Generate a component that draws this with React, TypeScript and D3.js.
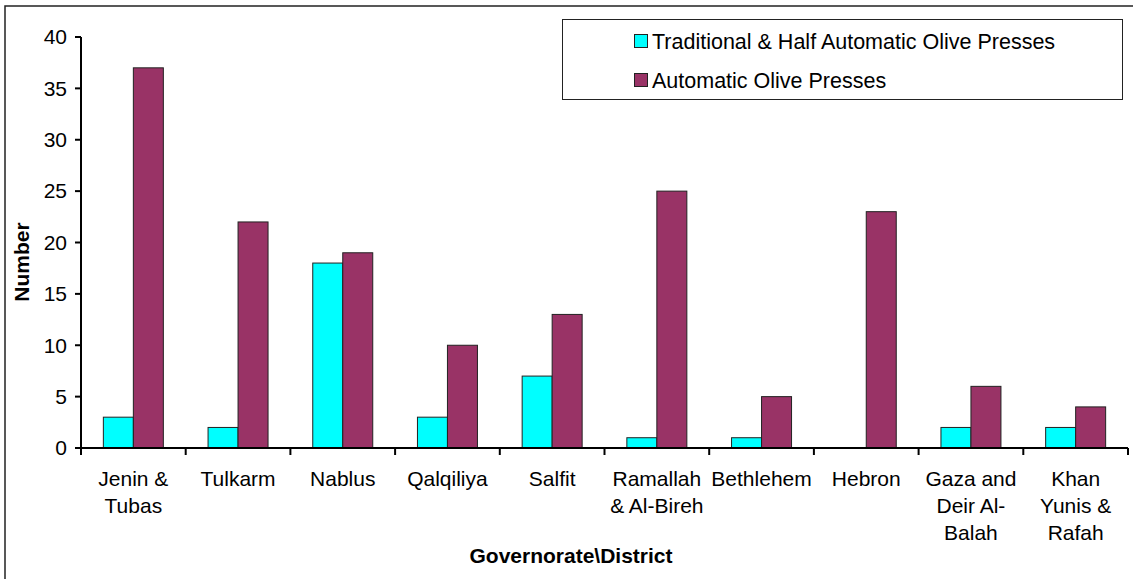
import React from "react";
import * as d3 from "d3";

const categories = [
  "Jenin &\nTubas",
  "Tulkarm",
  "Nablus",
  "Qalqiliya",
  "Salfit",
  "Ramallah\n& Al-Bireh",
  "Bethlehem",
  "Hebron",
  "Gaza and\nDeir Al-\nBalah",
  "Khan\nYunis &\nRafah",
];
const traditional = [3, 2, 18, 3, 7, 1, 1, 0, 2, 2];
const automatic = [37, 22, 19, 10, 13, 25, 5, 23, 6, 4];
const seriesNames = ["Traditional & Half Automatic Olive Presses", "Automatic Olive Presses"];
const seriesColors = ["#00FFFF", "#993366"];
const yTicks = [0, 5, 10, 15, 20, 25, 30, 35, 40];

export default function App() {
  const W = 1133, H = 579;
  const left = 81, right = 1128, top = 37, bottom = 448;
  const x = d3.scaleBand<number>().domain(d3.range(categories.length)).range([left, right]).paddingInner(0).paddingOuter(0);
  const y = d3.scaleLinear().domain([0, 40]).range([bottom, top]);
  const bw = x.bandwidth();
  const barW = bw * 0.2865;
  const groupStart = (bw - 2 * barW) / 2;
  const font = "'Liberation Sans', Arial, sans-serif";
  const series = [traditional, automatic];

  return (
    <svg width={W} height={H} style={{ position: "absolute", left: 0, top: 0, fontFamily: font }}>
      <rect x={0} y={0} width={W} height={H} fill="white" />
      <rect x={5} y={6} width={W + 20} height={H + 20} fill="white" stroke="#222" strokeWidth={1.5} />
      {series.map((vals, s) =>
        vals.map((v, i) =>
          v > 0 ? (
            <rect
              key={`${s}-${i}`}
              x={x(i)! + groupStart + s * barW}
              y={y(v)}
              width={barW}
              height={y(0) - y(v)}
              fill={seriesColors[s]}
              stroke="#222"
              strokeWidth={1}
            />
          ) : null
        )
      )}
      {/* y axis */}
      <line x1={left} x2={left} y1={top} y2={bottom} stroke="black" strokeWidth={2} />
      {yTicks.map((t) => (
        <g key={t}>
          <line x1={left - 6} x2={left} y1={y(t)} y2={y(t)} stroke="black" strokeWidth={2} />
          <text x={left - 14} y={y(t)} dy="0.35em" textAnchor="end" fontSize={21} fill="black">
            {t}
          </text>
        </g>
      ))}
      {/* x axis */}
      <line x1={left} x2={right} y1={bottom} y2={bottom} stroke="black" strokeWidth={2} />
      {d3.range(categories.length + 1).map((i) => {
        const px = i < categories.length ? x(i)! : right;
        return <line key={i} x1={px} x2={px} y1={bottom} y2={bottom + 7} stroke="black" strokeWidth={2} />;
      })}
      {categories.map((c, i) => (
        <text key={c} x={x(i)! + bw / 2} y={486} textAnchor="middle" fontSize={21} fill="black">
          {c.split("\n").map((ln, j) => (
            <tspan key={j} x={x(i)! + bw / 2} dy={j === 0 ? 0 : 27}>
              {ln}
            </tspan>
          ))}
        </text>
      ))}
      <text x={571} y={563} textAnchor="middle" fontSize={21} fontWeight="bold" fill="black">
        Governorate\District
      </text>
      <text transform={`translate(29,262) rotate(-90)`} textAnchor="middle" fontSize={21} fontWeight="bold" fill="black">
        Number
      </text>
      {/* legend */}
      <rect x={562.5} y={19.5} width={560} height={80} fill="white" stroke="#222" strokeWidth={1} />
      {seriesNames.map((n, s) => (
        <g key={n}>
          <rect x={634.5} y={(s === 0 ? 41 : 80) - 6.5} width={13} height={13} fill={seriesColors[s]} stroke="#222" strokeWidth={1} />
          <text x={652} y={s === 0 ? 41 : 80} dy="0.35em" fontSize={21.5} fill="black">
            {n}
          </text>
        </g>
      ))}
    </svg>
  );
}
